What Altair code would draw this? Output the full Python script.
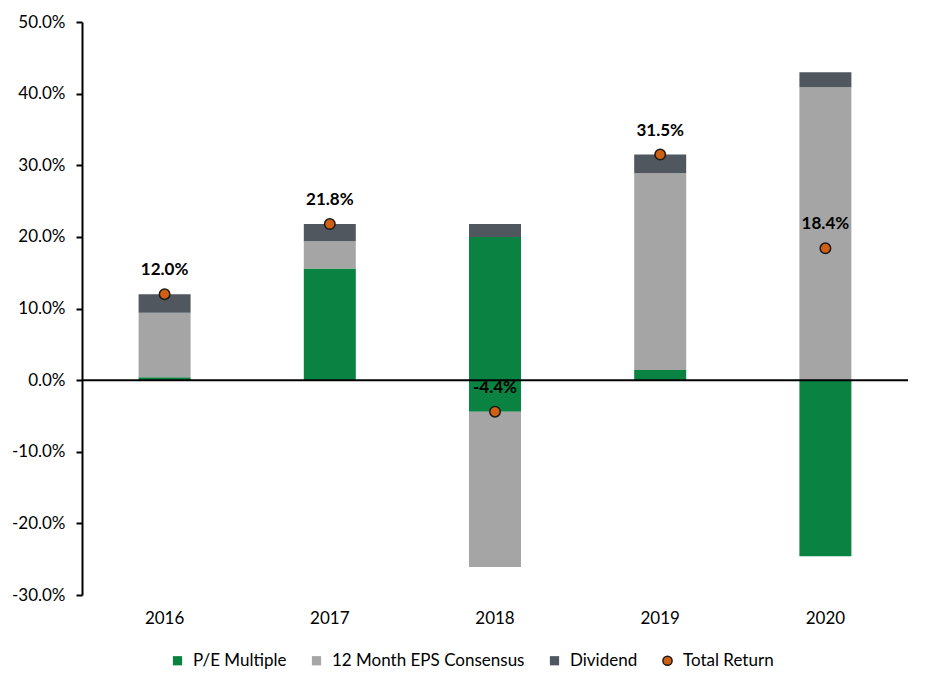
import altair as alt
import pandas as pd

years = ["2016", "2017", "2018", "2019", "2020"]
series_names = ["P/E Multiple", "12 Month EPS Consensus", "Dividend", "Total Return"]
series_colors = ["#0a8242", "#a5a5a5", "#51575f", "#cf5f13"]
series_shapes = ["square", "square", "square", "circle"]
series_strokes = ["transparent", "transparent", "transparent", "#1a1a1a"]

# segment bottoms / tops in percent
pe_low = [0.0, 0.0, -4.4, 0.0, -24.6]
pe_high = [0.4, 15.6, 20.0, 1.4, 0.0]
eps_low = [0.4, 15.6, -26.1, 1.4, 0.0]
eps_high = [9.4, 19.4, -4.4, 28.9, 40.9]
div_low = [9.4, 19.4, 20.0, 28.9, 40.9]
div_high = [12.0, 21.8, 21.8, 31.5, 43.0]
total_return = [12.0, 21.8, -4.4, 31.5, 18.4]

rows = []
for name, lows, highs in [
    ("P/E Multiple", pe_low, pe_high),
    ("12 Month EPS Consensus", eps_low, eps_high),
    ("Dividend", div_low, div_high),
]:
    for y, lo, hi in zip(years, lows, highs):
        rows.append({"year": y, "series": name, "low": lo / 100, "high": hi / 100})
bars_df = pd.DataFrame(rows)
tot_df = pd.DataFrame({"year": years, "series": "Total Return",
                       "value": [v / 100 for v in total_return]})

FONT = "Lato"
FS = 17


def make_legend():
    return alt.Legend(
        title=None,
        orient="none",
        legendX=87,
        legendY=630,
        direction="horizontal",
        labelFont=FONT,
        labelFontSize=FS,
        labelColor="#000000",
        labelOffset=7,
        labelLimit=400,
        columnPadding=21,
        symbolSize=85,
        symbolStrokeWidth=1.5,
        symbolOpacity=1,
    )


color = alt.Color("series:N", scale=alt.Scale(domain=series_names, range=series_colors),
                  legend=make_legend())
shape = alt.Shape("series:N", scale=alt.Scale(domain=series_names, range=series_shapes),
                  legend=make_legend())
stroke = alt.Stroke("series:N", scale=alt.Scale(domain=series_names, range=series_strokes),
                    legend=make_legend())

x = alt.X(
    "year:N",
    sort=years,
    title=None,
    axis=alt.Axis(domain=False, ticks=False, labelAngle=0, labelPadding=15,
                  labelFont=FONT, labelFontSize=FS, labelColor="#000000"),
)

bars = alt.Chart(bars_df).mark_bar(size=52).encode(
    x=x,
    y=alt.Y(
        "low:Q",
        title=None,
        scale=alt.Scale(domain=[-0.3, 0.5], nice=False, zero=False),
        axis=alt.Axis(values=[-0.3, -0.2, -0.1, 0, 0.1, 0.2, 0.3, 0.4, 0.5],
                      labelExpr="replace(format(datum.value, '.1%'), '\u2212', '-')",
                      grid=False, domainColor="#000000", domainWidth=2,
                      tickColor="#000000", tickWidth=2, tickSize=6, labelPadding=11,
                      labelFont=FONT, labelFontSize=FS, labelColor="#000000"),
    ),
    y2="high:Q",
    color=color,
)

zero = alt.Chart(pd.DataFrame({"z": [0.0]})).mark_rule(color="#000000", strokeWidth=2).encode(
    y="z:Q"
)

points = alt.Chart(tot_df).mark_point(size=110, filled=True, strokeWidth=1.5, opacity=1).encode(
    x=alt.X("year:N", sort=years),
    y="value:Q",
    color=color,
    shape=shape,
    stroke=stroke,
)

labels = alt.Chart(tot_df).transform_calculate(
    lbl="replace(format(datum.value, '.1%'), '\u2212', '-')"
).mark_text(dy=-24, font=FONT, fontSize=FS, fontWeight="bold", color="#000000").encode(
    x=alt.X("year:N", sort=years),
    y="value:Q",
    text="lbl:N",
)

chart = alt.layer(bars, zero, points, labels).properties(
    width=826,
    height=573,
    autosize=alt.AutoSizeParams(type="none"),
    padding={"left": 74, "top": 14, "right": 10, "bottom": 90},
).configure_view(stroke=None)

chart.save("out.html", embed_options={"renderer": "svg", "actions": False})
